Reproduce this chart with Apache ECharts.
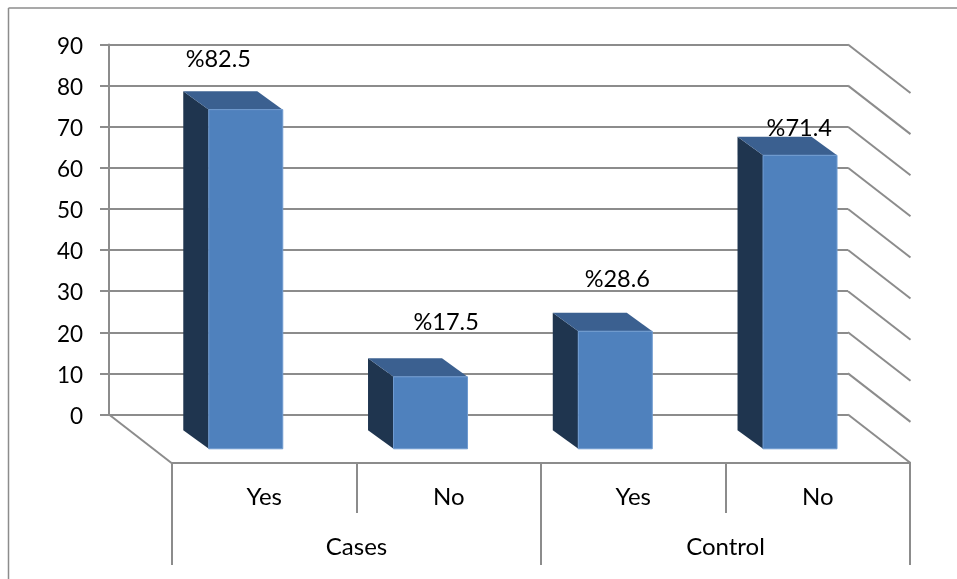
<!DOCTYPE html>
<html>
<head>
<meta charset="utf-8">
<style>html,body{margin:0;padding:0;background:#fff}#chart{width:957px;height:579px}</style>
<script src="https://cdn.jsdelivr.net/npm/echarts@6/dist/echarts.min.js"></script>
</head>
<body>
<div id="chart"></div>
<script>
// Response shares by study group
const groups = ['Cases', 'Control'];
const answers = ['Yes', 'No', 'Yes', 'No'];
const shares = [82.5, 17.5, 28.6, 71.4];
const axisTicks = [0, 10, 20, 30, 40, 50, 60, 70, 80, 90];

// Label placement relative to the top of each column's front face
const labelShift = [[-27.5, -50], [15.6, -54.4], [2, -51.4], [-0.8, -26.5]];

// Oblique projection of the box: how far the floor and columns recede
const WALL_DX = 62.5, WALL_DY = 48.5;
const FRONT_DX = 44.4, FRONT_DY = 34.3, COLUMN_W = 74, COLUMN_DX = 25.5, COLUMN_DY = 18.5;

const LINE = '#8c8c8c';
const FONT = 'Lato';
const TEXT = { color: '#000', fontFamily: FONT, fontSize: 24 };

const chart = echarts.init(document.getElementById('chart'), null, { renderer: 'canvas' });

function renderWallLine(params, api) {
  const p = api.coord([answers.length - 0.5, api.value(0)]);
  const right = params.coordSys.x + params.coordSys.width;
  return {
    type: 'line',
    shape: { x1: right, y1: p[1], x2: right + WALL_DX, y2: p[1] + WALL_DY },
    style: { stroke: LINE, lineWidth: 2 }
  };
}

function renderFloorEdge(params, api) {
  const y = api.coord([0, 0])[1];
  const x = params.coordSys.x;
  return {
    type: 'line',
    shape: { x1: x, y1: y, x2: x + WALL_DX, y2: y + WALL_DY },
    style: { stroke: LINE, lineWidth: 2 }
  };
}

function renderColumn(params, api) {
  const i = params.dataIndex;
  const top = api.coord([i, api.value(1)]);
  const base = api.coord([i, 0]);
  const l = top[0] + FRONT_DX - COLUMN_W / 2;
  const r = l + COLUMN_W;
  const t = top[1] + FRONT_DY;
  const b = base[1] + FRONT_DY;
  const shift = labelShift[i];
  return {
    type: 'group',
    children: [
      {
        type: 'polygon',
        shape: { points: [[l, t], [l - COLUMN_DX, t - COLUMN_DY], [l - COLUMN_DX, b - COLUMN_DY], [l, b]] },
        style: { fill: '#1F354F' }
      },
      {
        type: 'polygon',
        shape: { points: [[l, t], [l - COLUMN_DX, t - COLUMN_DY], [r - COLUMN_DX, t - COLUMN_DY], [r, t]] },
        style: { fill: '#3B6090' }
      },
      {
        type: 'rect',
        shape: { x: l, y: t, width: COLUMN_W, height: b - t },
        style: { fill: '#4F81BD', stroke: '#6F9BD0', lineWidth: 1 }
      },
      {
        type: 'text',
        z2: 10,
        style: {
          text: '%' + api.value(1),
          x: l + COLUMN_W / 2 + shift[0],
          y: t + shift[1],
          align: 'center',
          verticalAlign: 'middle',
          fill: TEXT.color,
          font: '23.5px ' + FONT
        }
      }
    ]
  };
}

const axisStroke = { lineStyle: { color: LINE, width: 2 } };

chart.setOption({
  animation: false,
  backgroundColor: '#fff',
  graphic: [
    { type: 'line', shape: { x1: 8.5, y1: 8, x2: 957, y2: 8 }, style: { stroke: LINE, lineWidth: 1.5 } },
    { type: 'line', shape: { x1: 8.5, y1: 8, x2: 8.5, y2: 579 }, style: { stroke: LINE, lineWidth: 1.5 } }
  ],
  grid: [
    { left: 109, top: 44.5, width: 739, height: 370 },   // back wall
    { left: 172, top: 94, width: 738, height: 369 },     // front edge of the floor
    { left: 109, top: 46.5, width: 739, height: 370 }    // value labels, set just below their ticks
  ],
  xAxis: [
    { gridIndex: 0, type: 'category', data: answers, show: false },
    {
      gridIndex: 1, type: 'category', data: answers, position: 'bottom',
      axisLine: { onZero: false, ...axisStroke },
      axisTick: { show: true, length: 50, alignWithLabel: false, ...axisStroke },
      axisLabel: { margin: 22, ...TEXT }
    },
    {
      gridIndex: 1, type: 'category', data: groups, position: 'bottom',
      axisLine: { onZero: false, ...axisStroke },
      axisTick: { show: true, length: 102, alignWithLabel: false, ...axisStroke },
      axisLabel: { margin: 72, ...TEXT }
    },
    { gridIndex: 2, type: 'category', data: answers, show: false }
  ],
  yAxis: [
    {
      gridIndex: 0, type: 'value', min: 0, max: 90, interval: 10,
      axisLine: { show: true, ...axisStroke },
      axisTick: { show: true, length: 9, ...axisStroke },
      axisLabel: { show: false },
      splitLine: { show: true, ...axisStroke }
    },
    { gridIndex: 1, type: 'value', min: 0, max: 90, show: false },
    {
      gridIndex: 2, type: 'value', min: 0, max: 90, interval: 10,
      axisLine: { show: false },
      axisTick: { show: false },
      splitLine: { show: false },
      axisLabel: { margin: 26, color: '#000', fontFamily: FONT, fontSize: 22.5 }
    }
  ],
  series: [
    {
      type: 'custom', xAxisIndex: 0, yAxisIndex: 0, silent: true, z: 2,
      data: axisTicks.map(v => [v]), encode: { x: -1, y: 0 }, renderItem: renderWallLine
    },
    {
      type: 'custom', xAxisIndex: 0, yAxisIndex: 0, silent: true, z: 2,
      data: [[0]], encode: { x: -1, y: 0 }, renderItem: renderFloorEdge
    },
    {
      type: 'custom', xAxisIndex: 0, yAxisIndex: 0, silent: true, z: 3, clip: false,
      data: shares.map((v, i) => [i, v]), encode: { x: 0, y: 1 }, renderItem: renderColumn
    }
  ]
});
</script>
</body>
</html>
